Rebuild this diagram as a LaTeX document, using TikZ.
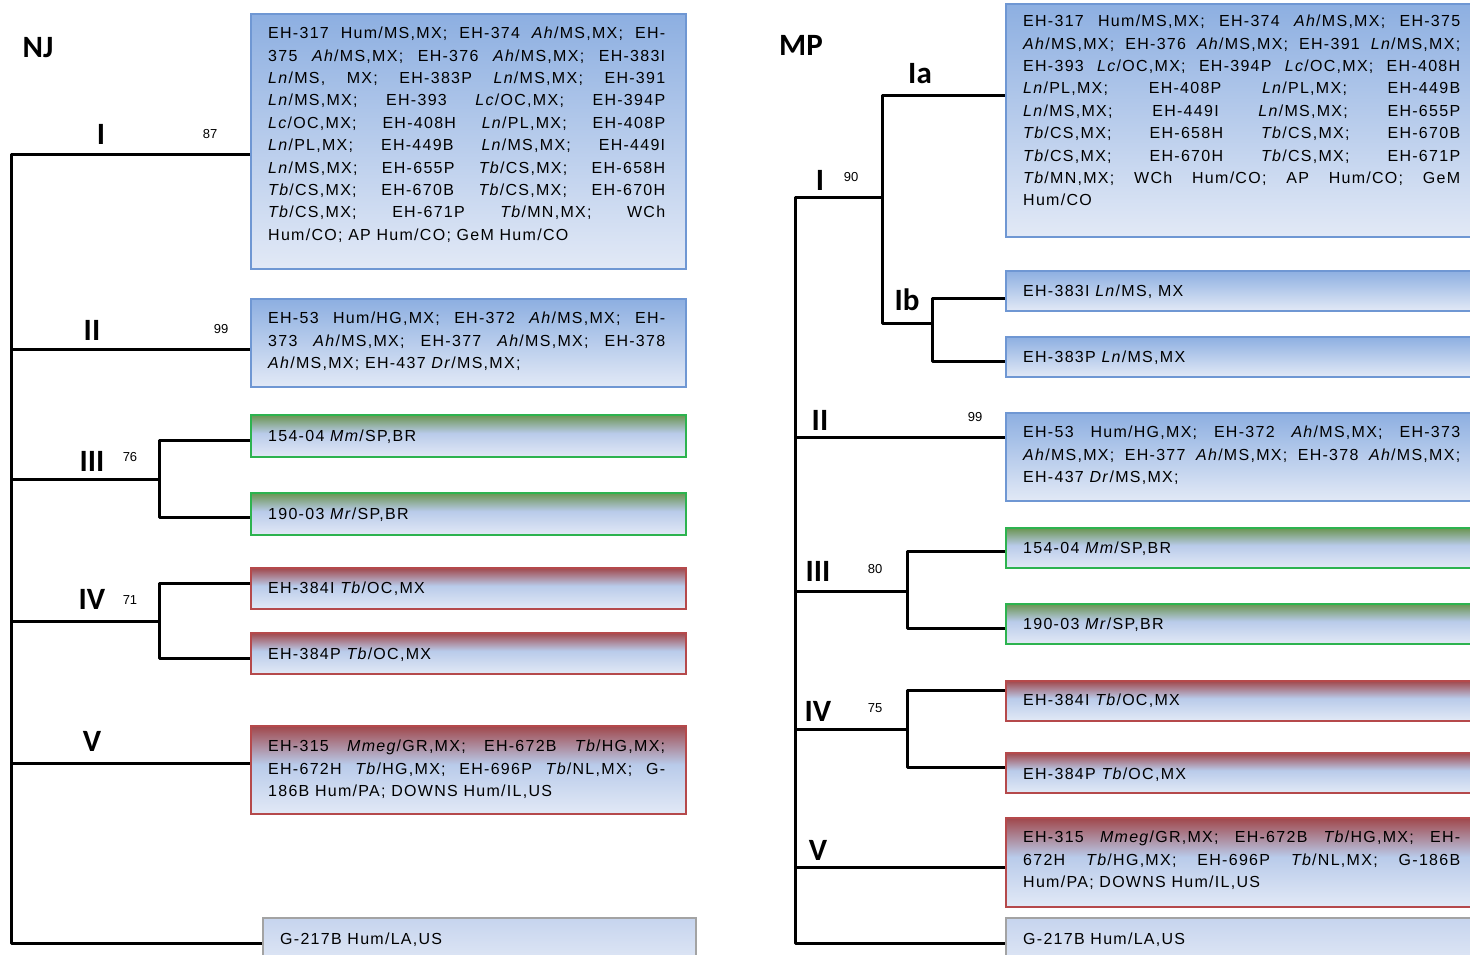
\documentclass[tikz,border=0pt]{standalone}
\usepackage{fontspec}
\setmainfont{Liberation Sans}
\newfontfamily\boxfont[LetterSpace=8]{Liberation Sans}
\newfontfamily\cladefont{Carlito}
\usetikzlibrary{calc}

% colours of the boxes and their gradients
\definecolor{bluetop}{HTML}{8DAFE1}
\definecolor{bluemid}{HTML}{B9CBEA}
\definecolor{bluebot}{HTML}{E2E9F6}
\definecolor{blueedge}{HTML}{6F97D3}
\definecolor{greentop}{HTML}{6A9450}
\definecolor{greenedge}{HTML}{2DB34F}
\definecolor{redtop}{HTML}{A0474B}
\definecolor{rededge}{HTML}{B5494B}
\definecolor{graytop}{HTML}{C6D4EE}
\definecolor{grayedge}{HTML}{A3A3A3}

% vertical shadings: the path spans 25bp (bottom) to 75bp (top)
\pgfdeclareverticalshading{shblue}{100bp}{color(0bp)=(bluebot); color(25bp)=(bluebot); color(75bp)=(bluetop); color(100bp)=(bluetop)}
\pgfdeclareverticalshading{shgreen}{100bp}{color(0bp)=(bluebot); color(25bp)=(bluebot); color(53bp)=(bluemid); color(75bp)=(greentop); color(100bp)=(greentop)}
\pgfdeclareverticalshading{shred}{100bp}{color(0bp)=(bluebot); color(25bp)=(bluebot); color(53bp)=(bluemid); color(75bp)=(redtop); color(100bp)=(redtop)}
\pgfdeclareverticalshading{shgray}{100bp}{color(0bp)=(bluebot); color(25bp)=(bluebot); color(75bp)=(graytop); color(100bp)=(graytop)}

\hbadness=10000
\tolerance=10000
\hyphenpenalty=10000
\exhyphenpenalty=10000

\tikzset{
  branch/.style={line width=3pt, line join=round, draw=black},
  clade/.style={font=\cladefont\bfseries\fontsize{31}{31}\selectfont, inner sep=0pt},
  boot/.style={font=\fontsize{13}{13}\selectfont, inner sep=0pt},
  taxbox/.style={anchor=north west, inner sep=0pt, line width=1.6pt},
  bluebox/.style={taxbox, draw=blueedge, shading=shblue},
  greenbox/.style={taxbox, draw=greenedge, shading=shgreen},
  redbox/.style={taxbox, draw=rededge, shading=shred},
  graybox/.style={taxbox, draw=grayedge, shading=shgray},
  entry/.style={anchor=north west, inner sep=0pt, align=justify,
    font=\boxfont\fontsize{16}{22.4}\selectfont},
  single/.style={anchor=base west, inner sep=0pt,
    font=\boxfont\fontsize{16}{22.4}\selectfont},
}

\begin{document}
\begin{tikzpicture}[x=1pt,y=-1pt]
\useasboundingbox (0,0) rectangle (1470,955);
\fill[white] (0,0) rectangle (1470,955);
\clip (0,0) rectangle (1470,955);

%% ---------------- NJ tree ----------------
\node[clade] (njtitle) at (38,48) {NJ};

\node[bluebox, minimum width=435pt, minimum height=255pt] (njI) at (250,13) {};
\node[bluebox, minimum width=435pt, minimum height=88pt] (njII) at (250,298) {};
\node[greenbox, minimum width=435pt, minimum height=42pt] (njIIIa) at (250,414) {};
\node[greenbox, minimum width=435pt, minimum height=42pt] (njIIIb) at (250,492) {};
\node[redbox, minimum width=435pt, minimum height=41pt] (njIVa) at (250,567) {};
\node[redbox, minimum width=435pt, minimum height=41pt] (njIVb) at (250,632) {};
\node[redbox, minimum width=435pt, minimum height=88pt] (njV) at (250,725) {};
\node[graybox, minimum width=433pt, minimum height=50pt] (njOut) at (262,917) {};

\node[entry, text width=397pt] (njIt) at (268,27) {%
EH-317 Hum/MS,MX; EH-374 \textit{Ah}/MS,MX; EH-\linebreak
375 \textit{Ah}/MS,MX; EH-376 \textit{Ah}/MS,MX; EH-383I\linebreak
\textit{Ln}/MS, MX; EH-383P \textit{Ln}/MS,MX; EH-391\linebreak
\textit{Ln}/MS,MX; EH-393 \textit{Lc}/OC,MX; EH-394P\linebreak
\textit{Lc}/OC,MX; EH-408H \textit{Ln}/PL,MX; EH-408P\linebreak
\textit{Ln}/PL,MX; EH-449B \textit{Ln}/MS,MX; EH-449I\linebreak
\textit{Ln}/MS,MX; EH-655P \textit{Tb}/CS,MX; EH-658H\linebreak
\textit{Tb}/CS,MX; EH-670B \textit{Tb}/CS,MX; EH-670H\linebreak
\textit{Tb}/CS,MX; EH-671P \textit{Tb}/MN,MX; WCh\linebreak
Hum/CO; AP Hum/CO; GeM Hum/CO};
\node[entry, text width=397pt] (njIIt) at (268,312) {%
EH-53 Hum/HG,MX; EH-372 \textit{Ah}/MS,MX; EH-\linebreak
373 \textit{Ah}/MS,MX; EH-377 \textit{Ah}/MS,MX; EH-378\linebreak
\textit{Ah}/MS,MX; EH-437 \textit{Dr}/MS,MX;};
\node[single] (njIIIat) at (268,441) {154-04 \textit{Mm}/SP,BR};
\node[single] (njIIIbt) at (268,519) {190-03 \textit{Mr}/SP,BR};
\node[single] (njIVat) at (268,593) {EH-384I \textit{Tb}/OC,MX};
\node[single] (njIVbt) at (268,659) {EH-384P \textit{Tb}/OC,MX};
\node[entry, text width=397pt] (njVt) at (268,740) {%
EH-315 \textit{Mmeg}/GR,MX; EH-672B \textit{Tb}/HG,MX;\linebreak
EH-672H \textit{Tb}/HG,MX; EH-696P \textit{Tb}/NL,MX; G-\linebreak
186B Hum/PA; DOWNS Hum/IL,US};
\node[single] (njOutt) at (280,944) {G-217B Hum/LA,US};

% joints of the NJ tree
\coordinate (nI) at (11,155);
\coordinate (nII) at (11,349);
\coordinate (nIII) at (11,479);
\coordinate (nIV) at (11,621);
\coordinate (nV) at (11,763);
\coordinate (nO) at (11,943);
\coordinate (nj3a) at (159,440);
\coordinate (nj3b) at (159,517);
\coordinate (nj4a) at (159,583);
\coordinate (nj4b) at (159,658);

\draw[branch] (nI -| njI.west) -- (nI) -- (nO) -- (nO -| njOut.west);
\draw[branch] (nII) -- (nII -| njII.west);
\draw[branch] (nIII) -- (nIII -| nj3a);
\draw[branch] (nj3a -| njIIIa.west) -- (nj3a) -- (nj3b) -- (nj3b -| njIIIb.west);
\draw[branch] (nIV) -- (nIV -| nj4a);
\draw[branch] (nj4a -| njIVa.west) -- (nj4a) -- (nj4b) -- (nj4b -| njIVb.west);
\draw[branch] (nV) -- (nV -| njV.west);

\node[clade] (njlI) at (101,134) {I};
\node[boot] (njbI) at (210,134) {87};
\node[clade] (njlII) at (92,330) {II};
\node[boot] (njbII) at (221,329) {99};
\node[clade] (njlIII) at (92,461) {III};
\node[boot] (njbIII) at (130,457) {76};
\node[clade] (njlIV) at (92,599) {IV};
\node[boot] (njbIV) at (130,600) {71};
\node[clade] (njlV) at (92,741) {V};

%% ---------------- MP tree ----------------
\node[clade] (mptitle) at (801,45) {MP};

\node[bluebox, minimum width=480pt, minimum height=233pt] (mpIa) at (1005,3) {};
\node[bluebox, minimum width=480pt, minimum height=40pt] (mpIba) at (1005,270) {};
\node[bluebox, minimum width=480pt, minimum height=40pt] (mpIbb) at (1005,336) {};
\node[bluebox, minimum width=480pt, minimum height=88pt] (mpII) at (1005,412) {};
\node[greenbox, minimum width=480pt, minimum height=40pt] (mpIIIa) at (1005,527) {};
\node[greenbox, minimum width=480pt, minimum height=40pt] (mpIIIb) at (1005,603) {};
\node[redbox, minimum width=480pt, minimum height=40pt] (mpIVa) at (1005,680) {};
\node[redbox, minimum width=480pt, minimum height=40pt] (mpIVb) at (1005,752) {};
\node[redbox, minimum width=480pt, minimum height=89pt] (mpV) at (1005,817) {};
\node[graybox, minimum width=480pt, minimum height=50pt] (mpOut) at (1005,917) {};

\node[entry, text width=437pt] (mpIat) at (1023,15) {%
EH-317 Hum/MS,MX; EH-374 \textit{Ah}/MS,MX; EH-375\linebreak
\textit{Ah}/MS,MX; EH-376 \textit{Ah}/MS,MX; EH-391 \textit{Ln}/MS,MX;\linebreak
EH-393 \textit{Lc}/OC,MX; EH-394P \textit{Lc}/OC,MX; EH-408H\linebreak
\textit{Ln}/PL,MX; EH-408P \textit{Ln}/PL,MX; EH-449B\linebreak
\textit{Ln}/MS,MX; EH-449I \textit{Ln}/MS,MX; EH-655P\linebreak
\textit{Tb}/CS,MX; EH-658H \textit{Tb}/CS,MX; EH-670B\linebreak
\textit{Tb}/CS,MX; EH-670H \textit{Tb}/CS,MX; EH-671P\linebreak
\textit{Tb}/MN,MX; WCh Hum/CO; AP Hum/CO; GeM\linebreak
Hum/CO};
\node[single] (mpIbat) at (1023,296) {EH-383I \textit{Ln}/MS, MX};
\node[single] (mpIbbt) at (1023,362) {EH-383P \textit{Ln}/MS,MX};
\node[entry, text width=437pt] (mpIIt) at (1023,426) {%
EH-53 Hum/HG,MX; EH-372 \textit{Ah}/MS,MX; EH-373\linebreak
\textit{Ah}/MS,MX; EH-377 \textit{Ah}/MS,MX; EH-378 \textit{Ah}/MS,MX;\linebreak
EH-437 \textit{Dr}/MS,MX;};
\node[single] (mpIIIat) at (1023,553) {154-04 \textit{Mm}/SP,BR};
\node[single] (mpIIIbt) at (1023,629) {190-03 \textit{Mr}/SP,BR};
\node[single] (mpIVat) at (1023,705) {EH-384I \textit{Tb}/OC,MX};
\node[single] (mpIVbt) at (1023,779) {EH-384P \textit{Tb}/OC,MX};
\node[entry, text width=437pt] (mpVt) at (1023,831) {%
EH-315 \textit{Mmeg}/GR,MX; EH-672B \textit{Tb}/HG,MX; EH-\linebreak
672H \textit{Tb}/HG,MX; EH-696P \textit{Tb}/NL,MX; G-186B\linebreak
Hum/PA; DOWNS Hum/IL,US};
\node[single] (mpOutt) at (1023,944) {G-217B Hum/LA,US};

% joints of the MP tree
\coordinate (mI) at (795,197);
\coordinate (mII) at (795,437);
\coordinate (mIII) at (795,591);
\coordinate (mIV) at (795,729);
\coordinate (mV) at (795,867);
\coordinate (mO) at (795,943);
\coordinate (mjIa) at (882,96);
\coordinate (mjIb) at (882,323);
\coordinate (mjIba) at (932,298);
\coordinate (mjIbb) at (932,361);
\coordinate (mj3a) at (907,551);
\coordinate (mj3b) at (907,628);
\coordinate (mj4a) at (907,690);
\coordinate (mj4b) at (907,767);

\draw[branch] (mI -| mjIa) -- (mI) -- (mO) -- (mO -| mpOut.west);
\draw[branch] (mjIa -| mpIa.west) -- (mjIa) -- (mjIb) -- (mjIb -| mjIba);
\draw[branch] (mjIba -| mpIba.west) -- (mjIba) -- (mjIbb) -- (mjIbb -| mpIbb.west);
\draw[branch] (mII) -- (mII -| mpII.west);
\draw[branch] (mIII) -- (mIII -| mj3a);
\draw[branch] (mj3a -| mpIIIa.west) -- (mj3a) -- (mj3b) -- (mj3b -| mpIIIb.west);
\draw[branch] (mIV) -- (mIV -| mj4a);
\draw[branch] (mj4a -| mpIVa.west) -- (mj4a) -- (mj4b) -- (mj4b -| mpIVb.west);
\draw[branch] (mV) -- (mV -| mpV.west);

\node[clade] (mplIa) at (920,74) {Ia};
\node[clade] (mplI) at (820,180) {I};
\node[boot] (mpbI) at (851,177) {90};
\node[clade] (mplIb) at (907,300) {Ib};
\node[clade] (mplII) at (820,420) {II};
\node[boot] (mpbII) at (975,417) {99};
\node[clade] (mplIII) at (818,571) {III};
\node[boot] (mpbIII) at (875,569) {80};
\node[clade] (mplIV) at (818,711) {IV};
\node[boot] (mpbIV) at (875,708) {75};
\node[clade] (mplV) at (818,850) {V};
\end{tikzpicture}
\end{document}
